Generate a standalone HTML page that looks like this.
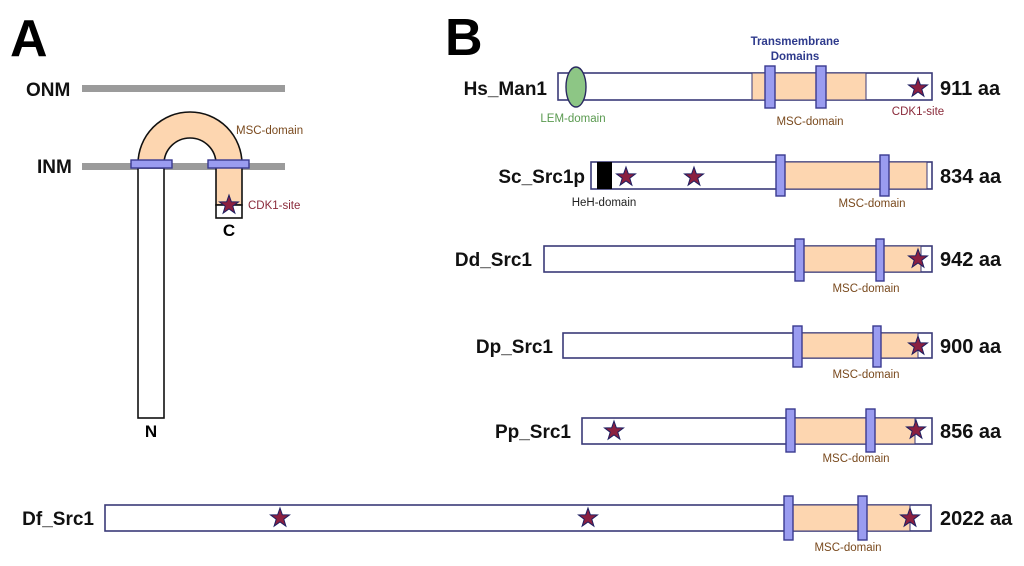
<!DOCTYPE html>
<html><head><meta charset="utf-8"><style>
html,body{margin:0;padding:0;background:#fff;}
svg{display:block;}
text{font-family:"Liberation Sans",sans-serif;}
.lab{font-size:19px;font-weight:bold;fill:#111;}
.aa{font-size:20px;font-weight:bold;fill:#111;}
.msc{font-size:11.5px;fill:#7a4a1e;}
.cdk{font-size:11.5px;fill:#8a2a3a;}
.bar{fill:#fff;stroke:#3a3a78;stroke-width:1.6;}
.pe{fill:#fdd6b0;stroke:#3a3a78;stroke-width:1;}
.tm{fill:#9a9cf0;stroke:#3a3a90;stroke-width:1.4;}
.st{fill:#8b2040;stroke:#1e1e60;stroke-width:1;}
</style></head><body>
<svg width="1024" height="566" viewBox="0 0 1024 566" xmlns="http://www.w3.org/2000/svg">
<defs>
<polygon id="star" points="0,-10 2.35,-3.24 9.51,-3.09 3.8,1.24 5.88,8.09 0,4 -5.88,8.09 -3.8,1.24 -9.51,-3.09 -2.35,-3.24"/>
</defs>
<!-- Panel A -->
<text x="10" y="56" style="font-size:52px;font-weight:bold">A</text>
<text x="26" y="96" class="lab">ONM</text>
<rect x="82" y="85" width="203" height="7" fill="#9b9b9b"/>
<text x="37" y="173" class="lab">INM</text>
<rect x="82" y="163" width="203" height="7" fill="#9b9b9b"/>
<path d="M138,164 A52,52 0 0 1 242,164 L242,205 L216,205 L216,164 A26,26 0 0 0 164,164 Z" fill="#fdd6b0" stroke="#111" stroke-width="1.6"/>
<rect x="216" y="205" width="26" height="13" fill="#fff" stroke="#111" stroke-width="1.6"/>
<rect x="138" y="168" width="26" height="250" fill="#fff" stroke="#111" stroke-width="1.6"/>
<rect x="131" y="160" width="41" height="8" class="tm"/>
<rect x="208" y="160" width="41" height="8" class="tm"/>
<use href="#star" x="229" y="205" class="st"/>
<text x="236" y="134" class="msc">MSC-domain</text>
<text x="248" y="209" class="cdk">CDK1-site</text>
<text x="229" y="236" text-anchor="middle" style="font-size:17px;font-weight:bold">C</text>
<text x="151" y="437" text-anchor="middle" style="font-size:17px;font-weight:bold">N</text>

<!-- Panel B -->
<text x="445" y="55" style="font-size:52px;font-weight:bold">B</text>
<text x="795" y="45" text-anchor="middle" style="font-size:11.5px;font-weight:bold;fill:#2e3a8c">Transmembrane</text>
<text x="795" y="60" text-anchor="middle" style="font-size:11.5px;font-weight:bold;fill:#2e3a8c">Domains</text>

<!-- Row 1 -->
<text x="547" y="95" text-anchor="end" class="lab">Hs_Man1</text>
<rect x="558" y="73" width="374" height="27" class="bar"/>
<rect x="752" y="73" width="114" height="27" class="pe"/>
<ellipse cx="576" cy="87" rx="10" ry="20" fill="#8dc685" stroke="#2a2a60" stroke-width="1.4"/>
<rect x="765" y="66" width="10" height="42" class="tm"/>
<rect x="816" y="66" width="10" height="42" class="tm"/>
<use href="#star" x="918" y="88" class="st"/>
<text x="940" y="95" class="aa">911 aa</text>
<text x="573" y="122" text-anchor="middle" style="font-size:11.5px;fill:#5a9a50">LEM-domain</text>
<text x="810" y="125" text-anchor="middle" class="msc">MSC-domain</text>
<text x="918" y="115" text-anchor="middle" class="cdk">CDK1-site</text>

<!-- Row 2 -->
<text x="585" y="183" text-anchor="end" class="lab">Sc_Src1p</text>
<rect x="591" y="162" width="341" height="27" class="bar"/>
<rect x="785" y="162" width="142" height="27" class="pe"/>
<rect x="597" y="162" width="15" height="27" fill="#000"/>
<rect x="776" y="155" width="9" height="41" class="tm"/>
<rect x="880" y="155" width="9" height="41" class="tm"/>
<use href="#star" x="626" y="177" class="st"/>
<use href="#star" x="694" y="177" class="st"/>
<text x="940" y="183" class="aa">834 aa</text>
<text x="604" y="206" text-anchor="middle" style="font-size:11.5px;fill:#222">HeH-domain</text>
<text x="872" y="207" text-anchor="middle" class="msc">MSC-domain</text>

<!-- Row 3 -->
<text x="532" y="266" text-anchor="end" class="lab">Dd_Src1</text>
<rect x="544" y="246" width="388" height="26" class="bar"/>
<rect x="804" y="246" width="117" height="26" class="pe"/>
<rect x="795" y="239" width="9" height="42" class="tm"/>
<rect x="876" y="239" width="8" height="42" class="tm"/>
<use href="#star" x="918" y="259" class="st"/>
<text x="940" y="266" class="aa">942 aa</text>
<text x="866" y="292" text-anchor="middle" class="msc">MSC-domain</text>

<!-- Row 4 -->
<text x="553" y="353" text-anchor="end" class="lab">Dp_Src1</text>
<rect x="563" y="333" width="369" height="25" class="bar"/>
<rect x="802" y="333" width="116" height="25" class="pe"/>
<rect x="793" y="326" width="9" height="41" class="tm"/>
<rect x="873" y="326" width="8" height="41" class="tm"/>
<use href="#star" x="918" y="346" class="st"/>
<text x="940" y="353" class="aa">900 aa</text>
<text x="866" y="378" text-anchor="middle" class="msc">MSC-domain</text>

<!-- Row 5 -->
<text x="571" y="438" text-anchor="end" class="lab">Pp_Src1</text>
<rect x="582" y="418" width="350" height="26" class="bar"/>
<rect x="795" y="418" width="120" height="26" class="pe"/>
<rect x="786" y="409" width="9" height="43" class="tm"/>
<rect x="866" y="409" width="9" height="43" class="tm"/>
<use href="#star" x="614" y="431" class="st"/>
<use href="#star" x="916" y="430" class="st"/>
<text x="940" y="438" class="aa">856 aa</text>
<text x="856" y="462" text-anchor="middle" class="msc">MSC-domain</text>

<!-- Row 6 -->
<text x="94" y="525" text-anchor="end" class="lab">Df_Src1</text>
<rect x="105" y="505" width="826" height="26" class="bar"/>
<rect x="793" y="505" width="117" height="26" class="pe"/>
<rect x="784" y="496" width="9" height="44" class="tm"/>
<rect x="858" y="496" width="9" height="44" class="tm"/>
<use href="#star" x="280" y="518" class="st"/>
<use href="#star" x="588" y="518" class="st"/>
<use href="#star" x="910" y="518" class="st"/>
<text x="940" y="525" class="aa">2022 aa</text>
<text x="848" y="551" text-anchor="middle" class="msc">MSC-domain</text>
</svg>
</body></html>
